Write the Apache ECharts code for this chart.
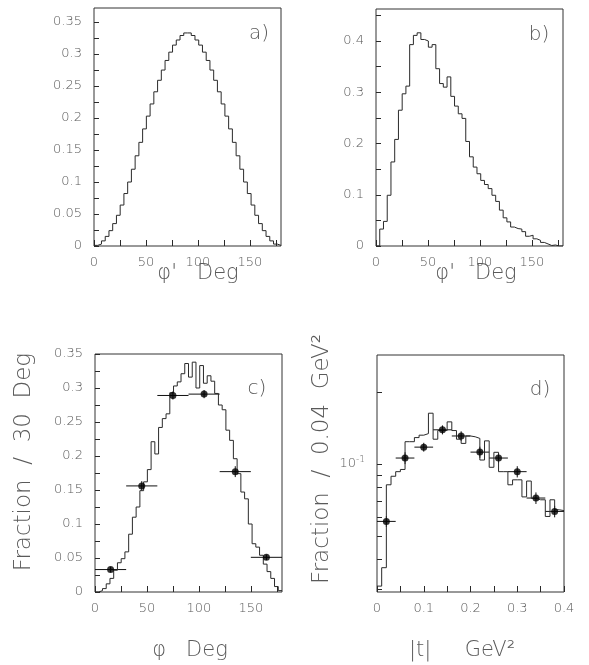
<!DOCTYPE html>
<html>
<head>
<meta charset="utf-8">
<script src="https://cdn.jsdelivr.net/npm/echarts@6/dist/echarts.min.js"></script>
<style>
html,body{margin:0;padding:0;background:#fff;}
#c{width:589px;height:665px;}
</style>
</head>
<body>
<div id="c"></div>
<script>
// ---------- data ----------
// panel a: phi' distribution, 50 bins of 3.6 deg
const binWidthDeg = 3.6;
const histA = [0.001,0.003,0.008,0.015,0.024,0.035,0.048,0.064,0.082,0.100,
  0.120,0.141,0.162,0.183,0.203,0.222,0.241,0.259,0.275,0.290,
  0.303,0.314,0.322,0.329,0.333,0.333,0.329,0.322,0.314,0.303,
  0.290,0.275,0.259,0.241,0.222,0.203,0.183,0.162,0.141,0.120,
  0.100,0.082,0.064,0.048,0.035,0.024,0.015,0.008,0.003,0.001];
// panel b
const histB = [0.000,0.033,0.048,0.099,0.164,0.208,0.265,0.297,0.312,0.393,
  0.411,0.416,0.403,0.400,0.388,0.393,0.346,0.317,0.310,0.330,
  0.292,0.273,0.258,0.249,0.204,0.174,0.154,0.141,0.128,0.120,
  0.112,0.099,0.087,0.070,0.055,0.047,0.037,0.034,0.033,0.028,
  0.019,0.021,0.014,0.011,0.007,0.004,0.001,0.002,0.000,0.000];
// panel c
const histC = [0.000,0.002,0.005,0.012,0.020,0.032,0.043,0.049,0.059,0.085,
  0.110,0.125,0.149,0.162,0.180,0.221,0.203,0.242,0.255,0.262,
  0.293,0.303,0.309,0.321,0.336,0.316,0.338,0.300,0.333,0.307,
  0.318,0.310,0.292,0.275,0.268,0.238,0.223,0.196,0.174,0.147,
  0.137,0.100,0.071,0.066,0.054,0.041,0.030,0.020,0.008,0.002];
const ptsCx = [15,45,75,105,135,165];
const ptsCy = [0.033,0.156,0.289,0.291,0.177,0.051];
const ptsCxErr = [15,15,15,15,15,15];
const ptsCyErr = [0.004,0.007,0.006,0.006,0.008,0.004];
// panel d: |t| distribution, 40 bins of 0.01 GeV^2 (log scale)
const binWidthT = 0.01;
const histD = [0.031,0.037,0.082,0.089,0.093,0.095,0.124,0.124,0.129,0.132,
  0.134,0.163,0.127,0.138,0.138,0.150,0.138,0.127,0.122,0.131,
  0.130,0.128,0.104,0.125,0.097,0.112,0.093,0.093,0.082,0.086,
  0.086,0.073,0.085,0.072,0.071,0.071,0.0605,0.071,0.0645,0.064];
const ptsDx = [0.02,0.06,0.10,0.14,0.18,0.22,0.26,0.30,0.34,0.38];
const ptsDy = [0.0577,0.106,0.1177,0.139,0.131,0.1122,0.106,0.093,0.0722,0.0635];
const ptsDxErr = [0.02,0.02,0.02,0.02,0.02,0.02,0.02,0.02,0.02,0.02];
const ptsDyErr = [0.003,0.006,0.005,0.006,0.006,0.006,0.005,0.005,0.004,0.0035];

// ticks
const degTicks = [0,25,50,75,100,125,150,175];
const degLabels = [0,50,100,150];
const aTicksY = [0,0.025,0.05,0.075,0.1,0.125,0.15,0.175,0.2,0.225,0.25,0.275,0.3,0.325,0.35];
const aLabelsY = [0,0.05,0.1,0.15,0.2,0.25,0.3,0.35];
const bTicksY = [0,0.05,0.1,0.15,0.2,0.25,0.3,0.35,0.4,0.45];
const bLabelsY = [0,0.1,0.2,0.3,0.4];
const cTicksY = aTicksY;
const cLabelsY = aLabelsY;
const tTicks = [0,0.05,0.1,0.15,0.2,0.25,0.3,0.35,0.4];
const tLabels = [0,0.1,0.2,0.3,0.4];
const dTicksY = [0.03,0.04,0.05,0.06,0.07,0.08,0.09,0.1,0.2];
const dLabelsY = [0.1];

// ---------- helpers ----------
function stepData(vals, w){
  const out = [];
  vals.forEach((v,i)=>out.push([+(i*w).toFixed(4), v]));
  out.push([+(vals.length*w).toFixed(4), vals[vals.length-1]]);
  return out;
}
function errData(xs, ys, exs, eys){
  return xs.map((x,i)=>[x, ys[i], exs[i], eys[i]]);
}
const FONT = '"DejaVu Sans", "Liberation Sans", sans-serif';
const TXT = '#5a5a5a';
const LINE = '#2a2a2a';

function xAxisCfg(grid, min, max, ticks, labels){
  return {
    type:'value', gridIndex:grid, min:min, max:max,
    axisLine:{show:false}, splitLine:{show:false},
    axisTick:{show:true, inside:true, length:6, customValues:ticks, lineStyle:{color:LINE}},
    axisLabel:{show:true, customValues:labels, margin:10, color:TXT, fontSize:13, fontFamily:FONT, fontWeight:200}
  };
}
function yAxisCfg(grid, type, min, max, ticks, labels, fmt){
  return {
    type:type, gridIndex:grid, min:min, max:max,
    axisLine:{show:false}, splitLine:{show:false},
    axisTick:{show:true, inside:true, length:5, customValues:ticks, lineStyle:{color:LINE}},
    axisLabel:{show:true, customValues:labels, margin:12, color:TXT, fontSize:13, fontFamily:FONT, fontWeight:200,
      formatter: fmt, rich: {b:{fontSize:13, fontFamily:FONT, fontWeight:200, color:TXT}, s:{fontSize:9, fontFamily:FONT, fontWeight:200, color:TXT, padding:[0,0,9,0]}}}
  };
}
function histSeries(idx, vals, w){
  return {type:'line', xAxisIndex:idx, yAxisIndex:idx, data:stepData(vals,w), step:'end',
    showSymbol:false, symbol:'none', lineStyle:{color:LINE, width:1}, clip:true, animation:false, silent:true};
}
function errSeries(idx, data){
  return {type:'custom', xAxisIndex:idx, yAxisIndex:idx, data:data, clip:true, animation:false, silent:true,
    renderItem:function(params, api){
      const x=api.value(0), y=api.value(1), ex=api.value(2), ey=api.value(3);
      const l=api.coord([x-ex,y]), r=api.coord([x+ex,y]);
      const lo=api.coord([x,y-ey]), hi=api.coord([x,y+ey]);
      const st={stroke:'#111', lineWidth:1};
      return {type:'group', children:[
        {type:'line', shape:{x1:l[0],y1:l[1],x2:r[0],y2:r[1]}, style:st},
        {type:'line', shape:{x1:lo[0],y1:lo[1],x2:hi[0],y2:hi[1]}, style:st}
      ]};
    }};
}
function ptSeries(idx, xs, ys){
  return {type:'scatter', xAxisIndex:idx, yAxisIndex:idx, data:xs.map((x,i)=>[x,ys[i]]),
    symbol:'circle', symbolSize:7, itemStyle:{color:'#000'}, animation:false, silent:true, z:5};
}
function txt(x,y,s,size,rot){
  return {type:'text', x:x, y:y, rotation:rot||0, silent:true,
    style:{text:s, fill:TXT, font:'200 '+size+'px '+FONT, textAlign:'center', textVerticalAlign:'middle'}};
}

const gridStyle = {show:true, borderColor:'#333', borderWidth:1, backgroundColor:'transparent'};
const option = {
  animation:false,
  grid:[
    Object.assign({left:94, top:8, width:187, height:238}, gridStyle),
    Object.assign({left:376, top:9, width:187, height:237}, gridStyle),
    Object.assign({left:95, top:354, width:187, height:238}, gridStyle),
    Object.assign({left:377, top:355, width:187, height:237}, gridStyle)
  ],
  xAxis:[
    xAxisCfg(0,0,180,degTicks,degLabels),
    xAxisCfg(1,0,180,degTicks,degLabels),
    xAxisCfg(2,0,180,degTicks,degLabels),
    xAxisCfg(3,0,0.4,tTicks,tLabels)
  ],
  yAxis:[
    yAxisCfg(0,'value',0,0.372,aTicksY,aLabelsY),
    yAxisCfg(1,'value',0,0.4625,bTicksY,bLabelsY),
    yAxisCfg(2,'value',0,0.35,cTicksY,cLabelsY),
    Object.assign(yAxisCfg(3,'log',0.0293,0.285,dTicksY,dLabelsY,function(){return '{b|10}{s|-1}';}),{logBase:10})
  ],
  series:[
    histSeries(0,histA,binWidthDeg),
    histSeries(1,histB,binWidthDeg),
    histSeries(2,histC,binWidthDeg),
    errSeries(2, errData(ptsCx,ptsCy,ptsCxErr,ptsCyErr)),
    ptSeries(2, ptsCx, ptsCy),
    histSeries(3,histD,binWidthT),
    errSeries(3, errData(ptsDx,ptsDy,ptsDxErr,ptsDyErr)),
    ptSeries(3, ptsDx, ptsDy)
  ],
  graphic:[
    txt(259,34,'a)',20), txt(539,35,'b)',20), txt(257,389,'c)',20), txt(540,390,'d)',20),
    txt(198,274,"φ'   Deg",21), txt(476,274,"φ'   Deg",21),
    txt(190,651,"φ   Deg",21), txt(462,651,"|t|     GeV²",21),
    txt(24,462,"Fraction  /  30  Deg",23,Math.PI/2),
    txt(322,459,"Fraction  /  0.04  GeV²",23,Math.PI/2)
  ]
};
const chart = echarts.init(document.getElementById('c'), null, {renderer:'canvas'});
chart.setOption(option);
</script>
</body>
</html>
